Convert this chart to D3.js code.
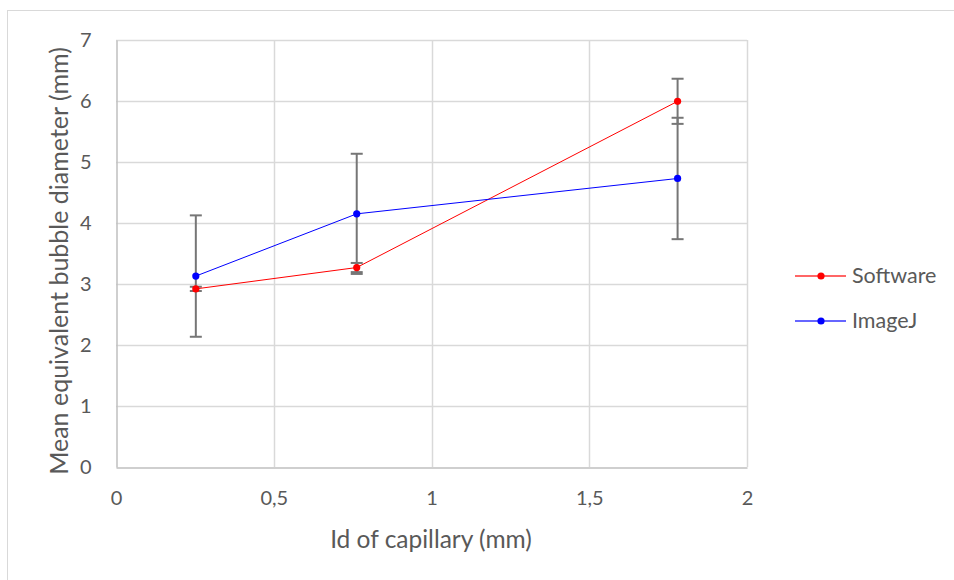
<!DOCTYPE html>
<html>
<head>
<meta charset="utf-8">
<script src="https://cdn.jsdelivr.net/npm/d3@7/dist/d3.min.js"></script>
<style>
  html, body { margin: 0; padding: 0; background: #fff; }
  svg { display: block; font-family: Lato, "Open Sans", sans-serif; }
</style>
</head>
<body>
<svg id="chart" width="954" height="580"></svg>
<script>
// Capillary inner diameters (mm)
const capillaryId = [0.253, 0.763, 1.78];
// Mean equivalent bubble diameter (mm) and error-bar half widths
const softwareMean = [2.92, 3.27, 5.995];
const softwareErr  = [0.035, 0.075, 0.37];
const imagejMean   = [3.13, 4.15, 4.73];
const imagejErr    = [0.995, 0.985, 0.995];
const seriesNames  = ["Software", "ImageJ"];
const seriesColors = ["#ff0000", "#0000ff"];
const xTicks = [0, 0.5, 1, 1.5, 2];
const xTickLabels = ["0", "0,5", "1", "1,5", "2"];
const yTicks = [0, 1, 2, 3, 4, 5, 6, 7];
const yTickLabels = ["0", "1", "2", "3", "4", "5", "6", "7"];

const series = [
  { name: seriesNames[0], color: seriesColors[0], mean: softwareMean, err: softwareErr },
  { name: seriesNames[1], color: seriesColors[1], mean: imagejMean, err: imagejErr }
];

const svg = d3.select("#chart");

// outer chart frame
svg.append("rect")
  .attr("x", 7.5).attr("y", 10.5).attr("width", 980).attr("height", 600)
  .attr("fill", "#fff").attr("stroke", "#d9d9d9").attr("stroke-width", 1);

const plot = { left: 116, right: 747, top: 40, bottom: 467 };
const x = d3.scaleLinear().domain([0, 2]).range([plot.left, plot.right]);
const y = d3.scaleLinear().domain([0, 7]).range([plot.bottom, plot.top]);

// gridlines
const grid = svg.append("g");
grid.selectAll("line.h").data(yTicks.filter(d => d > 0)).enter().append("line")
  .attr("x1", plot.left).attr("x2", plot.right)
  .attr("y1", d => Math.round(y(d)) + 0.5).attr("y2", d => Math.round(y(d)) + 0.5)
  .attr("stroke", "#d9d9d9").attr("stroke-width", 1.5);
grid.selectAll("line.v").data(xTicks.filter(d => d > 0)).enter().append("line")
  .attr("y1", plot.top).attr("y2", plot.bottom)
  .attr("x1", d => Math.round(x(d)) + 0.5).attr("x2", d => Math.round(x(d)) + 0.5)
  .attr("stroke", "#d9d9d9").attr("stroke-width", 1.5);

// axes
const xAxis = d3.axisBottom(x).tickValues(xTicks).tickFormat((d, i) => xTickLabels[i]).tickSize(0).tickPadding(23);
const yAxis = d3.axisLeft(y).tickValues(yTicks).tickFormat((d, i) => yTickLabels[i]).tickSize(0).tickPadding(25);

const gx = svg.append("g").attr("transform", `translate(0,${plot.bottom + 0.5})`).call(xAxis);
const gy = svg.append("g").attr("transform", `translate(${plot.left + 0.5},0)`).call(yAxis);
[gx, gy].forEach(g => {
  g.select(".domain").attr("stroke", "#bfbfbf").attr("stroke-width", 1.5);
  g.selectAll("text").attr("fill", "#595959").attr("font-size", 20).attr("font-family", "Lato, sans-serif");
});

// error bars
const eb = svg.append("g");
series.forEach(s => {
  capillaryId.forEach((cx, i) => {
    const px = x(cx);
    const y1 = y(s.mean[i] + s.err[i]), y2 = y(s.mean[i] - s.err[i]);
    eb.append("line").attr("x1", px).attr("x2", px).attr("y1", y1).attr("y2", y2)
      .attr("stroke", "#767676").attr("stroke-width", 2);
    [y1, y2].forEach(yy => {
      eb.append("line").attr("x1", px - 6).attr("x2", px + 6).attr("y1", yy).attr("y2", yy)
        .attr("stroke", "#767676").attr("stroke-width", 2);
    });
  });
});

// series lines and markers
const line = d3.line().x((d, i) => x(capillaryId[i])).y(d => y(d));
series.forEach(s => {
  svg.append("path").datum(s.mean).attr("d", line)
    .attr("fill", "none").attr("stroke", s.color).attr("stroke-width", 1);
  svg.append("g").selectAll("circle").data(s.mean).enter().append("circle")
    .attr("cx", (d, i) => x(capillaryId[i])).attr("cy", d => y(d)).attr("r", 3.6)
    .attr("fill", s.color);
});

// axis titles
svg.append("text").attr("x", 431).attr("y", 548).attr("text-anchor", "middle")
  .attr("fill", "#595959").attr("font-size", 24.5).text("Id of capillary (mm)");
svg.append("text").attr("transform", "translate(68,261) rotate(-90)").attr("text-anchor", "middle")
  .attr("fill", "#595959").attr("font-size", 25).text("Mean equivalent bubble diameter (mm)");

// legend
const legend = svg.append("g");
series.forEach((s, i) => {
  const ly = 276 + i * 45;
  legend.append("line").attr("x1", 795).attr("x2", 846).attr("y1", ly).attr("y2", ly)
    .attr("stroke", s.color).attr("stroke-opacity", 0.6).attr("stroke-width", 2);
  legend.append("circle").attr("cx", 821).attr("cy", ly).attr("r", 3.6).attr("fill", s.color);
  legend.append("text").attr("x", 852).attr("y", ly + 7).attr("fill", "#595959")
    .attr("font-size", 21.5).text(s.name);
});
</script>
</body>
</html>
